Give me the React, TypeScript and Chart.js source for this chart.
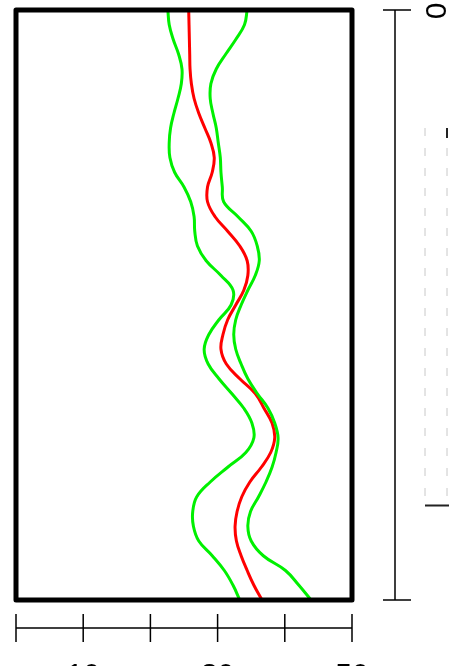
import { useEffect, useRef } from "react";
import { Chart, registerables } from "chart.js";

Chart.register(...registerables);

// Depth along the vertical axis (0 at top, 100 at bottom)
const depth = [
  0, 2.5, 5, 7.5, 10, 12.5, 15, 17.5, 20, 22.5, 25, 27.5, 30, 32.5, 35, 37.5, 40,
  42.5, 45, 47.5, 50, 52.5, 55, 57.5, 60, 62.5, 65, 67.5, 70, 72.5, 75, 77.5, 80,
  82.5, 85, 87.5, 90, 92.5, 95, 97.5, 100,
];

// Mean curve (red)
const meanValues = [
  25.7, 25.75, 25.8, 25.85, 25.9, 26.1, 26.5, 27.2, 28.1, 29.0, 29.5, 29.2, 28.5,
  28.5, 29.6, 31.5, 33.3, 34.4, 34.5, 33.9, 32.7, 31.5, 30.8, 30.5, 31.3, 33.3,
  35.6, 36.9, 38.1, 38.5, 37.9, 36.5, 34.8, 33.6, 32.9, 32.6, 32.8, 33.5, 34.4,
  35.4, 36.6,
];

// Lower band (green)
const lowerValues = [
  22.6, 22.8, 23.4, 24.2, 24.7, 24.6, 24.1, 23.5, 23.0, 22.8, 22.9, 23.6, 25.0,
  26.0, 26.5, 26.6, 27.0, 28.3, 30.5, 32.3, 32.0, 30.2, 28.7, 28.0, 28.6, 30.2,
  32.1, 33.9, 35.1, 35.4, 34.2, 31.5, 28.9, 26.9, 26.3, 26.4, 27.2, 29.2, 31.0,
  32.3, 33.3,
];

// Upper band (green)
const upperValues = [
  34.4, 34.0, 32.7, 31.2, 29.8, 29.0, 28.9, 29.3, 29.8, 30.1, 30.4, 30.5, 30.7,
  30.9, 33.0, 35.0, 35.9, 36.2, 35.6, 34.5, 33.5, 32.7, 32.4, 32.7, 33.5, 34.5,
  35.9, 37.5, 38.5, 39.0, 38.7, 38.1, 37.2, 36.1, 34.9, 34.5, 35.0, 36.8, 40.1,
  42.1, 43.9,
];

const xTicks = [0, 10, 20, 30, 40, 50];
const xTickLabels = ["", "10", "", "30", "", "50"];
const yTicks = [0, 100];
const yTickLabels = ["0", ""];
const keyRange = [20, 84];

const FONT = '"Liberation Sans", Arial, sans-serif';

const framePlugin = {
  id: "frame",
  afterDatasetsDraw(chart: any) {
    const { ctx, chartArea: a, scales } = chart;
    const xs = scales.x;
    const ys = scales.y;
    ctx.save();

    // plot box
    ctx.strokeStyle = "#000";
    ctx.lineWidth = 5;
    ctx.lineJoin = "round";
    ctx.strokeRect(a.left, a.top, a.right - a.left, a.bottom - a.top);

    // bottom axis
    const axisY = a.bottom + 28;
    ctx.lineWidth = 1.5;
    ctx.lineJoin = "miter";
    ctx.beginPath();
    ctx.moveTo(xs.getPixelForValue(xTicks[0]), axisY);
    ctx.lineTo(xs.getPixelForValue(xTicks[xTicks.length - 1]), axisY);
    xTicks.forEach((t) => {
      const px = xs.getPixelForValue(t);
      ctx.moveTo(px, axisY - 14);
      ctx.lineTo(px, axisY + 14);
    });
    ctx.stroke();

    ctx.fillStyle = "#000";
    ctx.font = `30px ${FONT}`;
    ctx.textAlign = "center";
    ctx.textBaseline = "top";
    xTicks.forEach((t, i) => {
      if (!xTickLabels[i]) return;
      ctx.fillText(xTickLabels[i], xs.getPixelForValue(t), axisY + 33);
    });

    // right axis
    const axisX = a.right + 43;
    ctx.beginPath();
    ctx.moveTo(axisX, ys.getPixelForValue(yTicks[0]));
    ctx.lineTo(axisX, ys.getPixelForValue(yTicks[yTicks.length - 1]));
    yTicks.forEach((t) => {
      const py = ys.getPixelForValue(t);
      ctx.moveTo(axisX - 12, py);
      ctx.lineTo(axisX + 16, py);
    });
    ctx.stroke();

    yTicks.forEach((t, i) => {
      if (!yTickLabels[i]) return;
      ctx.save();
      ctx.translate(axisX + 43, ys.getPixelForValue(t) + 1);
      ctx.rotate(-Math.PI / 2);
      ctx.textAlign = "center";
      ctx.textBaseline = "middle";
      ctx.fillText(yTickLabels[i], 0, 0);
      ctx.restore();
    });

    // faint key frame at the right edge
    const k0 = ys.getPixelForValue(keyRange[0]);
    const k1 = ys.getPixelForValue(keyRange[1]);
    ctx.strokeStyle = "#c8c8c8";
    ctx.lineWidth = 1;
    ctx.setLineDash([8, 12]);
    ctx.beginPath();
    ctx.moveTo(axisX + 30, k0);
    ctx.lineTo(axisX + 30, k1);
    ctx.moveTo(axisX + 52, k0);
    ctx.lineTo(axisX + 52, k1);
    ctx.stroke();
    ctx.setLineDash([]);
    ctx.strokeStyle = "#222";
    ctx.lineWidth = 2;
    ctx.beginPath();
    ctx.moveTo(axisX + 30, k1);
    ctx.lineTo(axisX + 56, k1);
    ctx.moveTo(axisX + 52, k0);
    ctx.lineTo(axisX + 52, k0 + 10);
    ctx.stroke();

    ctx.restore();
  },
};

export default function App() {
  const ref = useRef<HTMLCanvasElement | null>(null);

  useEffect(() => {
    if (!ref.current) return;
    const mk = (vals: number[]) => vals.map((v, i) => ({ x: v, y: depth[i] }));
    const common = {
      borderWidth: 3,
      pointRadius: 0,
      fill: false,
      tension: 0.4,
    };
    const chart = new Chart(ref.current, {
      type: "line",
      data: {
        datasets: [
          { label: "lower", data: mk(lowerValues), borderColor: "#00f000", ...common },
          { label: "upper", data: mk(upperValues), borderColor: "#00f000", ...common },
          { label: "mean", data: mk(meanValues), borderColor: "#ff0000", ...common },
        ],
      },
      options: {
        animation: false,
        responsive: false,
        devicePixelRatio: 1,
        indexAxis: "y",
        layout: { padding: { left: 16, right: 97, top: 10, bottom: 66 } },
        scales: {
          x: { type: "linear", min: 0, max: 50, display: false },
          y: { type: "linear", min: 0, max: 100, reverse: true, display: false },
        },
        plugins: {
          legend: { display: false },
          tooltip: { enabled: false },
        },
      },
      plugins: [framePlugin],
    });
    return () => chart.destroy();
  }, []);

  return (
    <div style={{ position: "fixed", left: 0, top: 0, width: 449, height: 666, background: "#fff" }}>
      <canvas ref={ref} width={449} height={666} style={{ display: "block" }} />
    </div>
  );
}
